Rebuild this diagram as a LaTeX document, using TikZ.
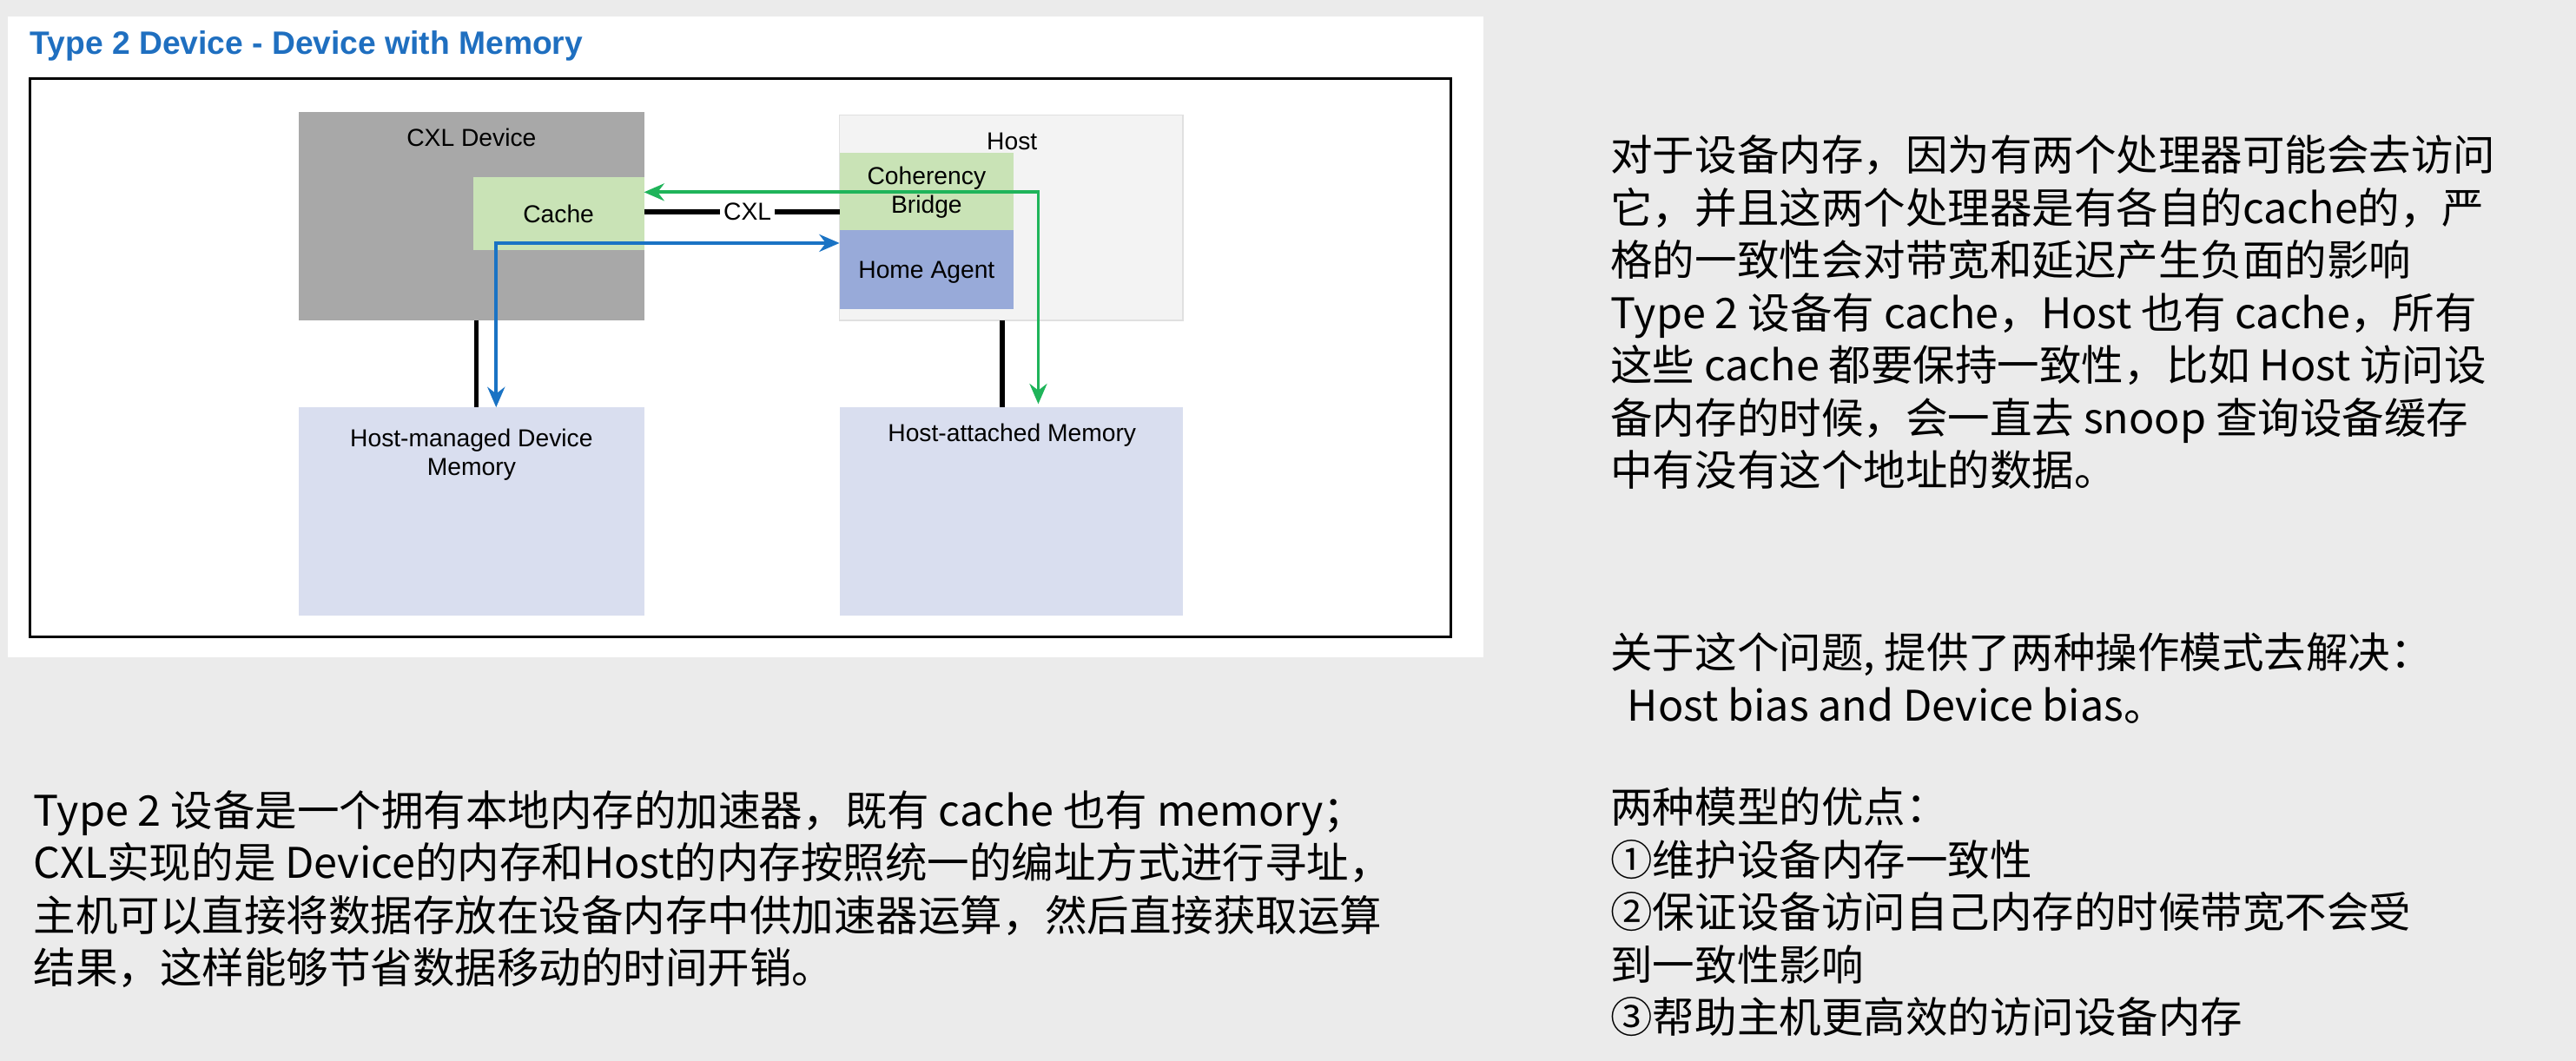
\documentclass[tikz,border=0pt]{standalone}
\usepackage{fontspec}
\setmainfont{Noto Sans CJK SC}
\newfontfamily\diagfont{Liberation Sans}
\usetikzlibrary{positioning,arrows.meta}
\definecolor{bgray}{HTML}{EBEBEB}
\definecolor{devgray}{HTML}{A8A8A8}
\definecolor{cachegreen}{HTML}{C9E3B6}
\definecolor{agentblue}{HTML}{98AAD9}
\definecolor{memblue}{HTML}{D9DEEF}
\definecolor{hostgray}{HTML}{F3F3F3}
\definecolor{titleblue}{HTML}{1F6FC0}
\definecolor{arrowblue}{HTML}{1A73C4}
\definecolor{arrowgreen}{HTML}{1FB45A}
\begin{document}
\begin{tikzpicture}[x=0.02cm,y=-0.02cm,
  lbl/.style={font=\diagfont\fontsize{8.5}{10}\selectfont},
  para/.style={anchor=north west,align=left,inner sep=0pt,font=\fontsize{14.6}{18.2}\selectfont},
  link/.style={line width=1.6pt},
  flow/.style={line width=1.2pt,{Stealth[length=7pt,width=6pt]}-{Stealth[length=7pt,width=6pt]}}]
\fill[bgray] (0,0) rectangle (1568,646);
\useasboundingbox (0,0) rectangle (1568,646);
\fill[white] (5,10) rectangle (903,400);
\node[anchor=west,inner sep=0pt,text=titleblue,font=\diagfont\bfseries\fontsize{11.2}{13}\selectfont] (title) at (18,28) {Type 2 Device - Device with Memory};
\draw[line width=0.9pt] (18,48) rectangle (883,388);

% device side
\fill[devgray] (182,68) rectangle (392,195);
\node[lbl] (dev) at (287,84) {CXL Device};
\fill[cachegreen] (288,108) rectangle (392,152);
\node[lbl] (cache) at (340,130) {Cache};
\fill[memblue] (182,248) rectangle (392,375);
\node[lbl,align=center] (hmem) at (287,277) {Host-managed Device\\Memory};

% host side
\filldraw[fill=hostgray,draw=black!12] (511,70) rectangle (720,195);
\node[lbl] (host) at (616,86) {Host};
\fill[cachegreen] (511,93) rectangle (617,140);
\node[lbl,align=center] (bridge) at (564,117) {Coherency\\Bridge};
\fill[agentblue] (511,140) rectangle (617,188);
\node[lbl] (agent) at (564,166) {Home Agent};
\fill[memblue] (511,248) rectangle (720,375);
\node[lbl] (amem) at (616,265) {Host-attached Memory};

% links
\coordinate (cR) at (392,129);
\coordinate (bL) at (511,129);
\node[lbl,fill=white,inner sep=1pt] (cxl) at (455,129) {CXL};
\draw[link] (cR) -- (cxl.west);
\draw[link] (cxl.east) -- (bL);
\draw[link] (290,195) -- (290,248);
\draw[link] (610,195) -- (610,248);

% flows
\draw[flow,arrowblue] (302,248) -- (302,148) -- (511,148);
\draw[flow,arrowgreen] (392,117) -- (632,117) -- (632,246);

% text
\node[para] (notes) at (980,82) {对于设备内存，因为有两个处理器可能会去访问\\它，并且这两个处理器是有各自的cache的，严\\格的一致性会对带宽和延迟产生负面的影响\\Type 2 设备有 cache，Host 也有 cache，所有\\这些 cache 都要保持一致性，比如 Host 访问设\\备内存的时候，会一直去 snoop 查询设备缓存\\中有没有这个地址的数据。};
\node[para] (bias) at (980,385) {关于这个问题, 提供了两种操作模式去解决：\\\hspace{0.4em}Host bias and Device bias。};
\node[para] (pros) at (980,479) {两种模型的优点：\\①维护设备内存一致性\\②保证设备访问自己内存的时候带宽不会受\\到一致性影响\\③帮助主机更高效的访问设备内存};
\node[para] (summary) at (20,481) {Type 2 设备是一个拥有本地内存的加速器，既有 cache 也有 memory；\\CXL实现的是 Device的内存和Host的内存按照统一的编址方式进行寻址，\\主机可以直接将数据存放在设备内存中供加速器运算，然后直接获取运算\\结果，这样能够节省数据移动的时间开销。};
\end{tikzpicture}
\end{document}
